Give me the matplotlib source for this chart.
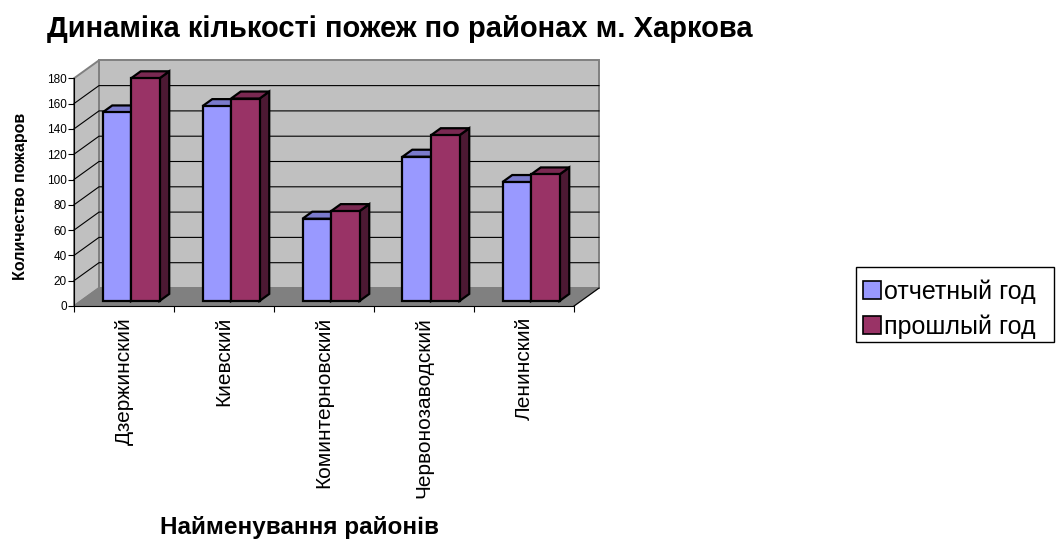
import matplotlib
matplotlib.use("Agg")
import matplotlib.pyplot as plt
from matplotlib.patches import Polygon, Patch, Rectangle

plt.rcParams["font.family"] = ["Liberation Sans", "DejaVu Sans"]

# fire counts by district of Kharkiv
districts = ["Дзержинский", "Киевский", "Коминтерновский", "Червонозаводский", "Ленинский"]
current_year = [149, 154, 65, 114, 94]
previous_year = [176, 160, 71, 131, 100]
series_names = ["отчетный год", "прошлый год"]
y_ticks = list(range(0, 181, 20))

title = "Динаміка кількості пожеж по районах м. Харкова"
x_title = "Найменування районів"
y_title = "Количество пожаров"

# face colours: front, top, side
blue = ("#9999FF", "#7A7ACC", "#4D4D80")
wine = ("#993366", "#7A2952", "#4C1933")

W, H = 1059, 539
fig = plt.figure(figsize=(W / 100, H / 100), dpi=100)

# axes in pixel terms: 100 px per district, 1.265 px per unit of value
px_cat, px_val = 100.0, 25.3 / 20
left_px, floor_px, top_px, right_px = 74, 306, 56, 614
ax = fig.add_axes([left_px / W, (H - floor_px) / H,
                   (right_px - left_px) / W, (floor_px - top_px) / H])
ax.set_xlim(0, (right_px - left_px) / px_cat)
ax.set_ylim(0, (floor_px - top_px) / px_val)

# oblique depth offset of the walls
DX = 25 / px_cat
DY = 18 / px_val
n = len(districts)
vmax = y_ticks[-1]


def proj(x, y, d):
    return (x + d * DX, y + d * DY)


def poly(pts, fc, ec, lw, z):
    ax.add_patch(Polygon(pts, closed=True, facecolor=fc, edgecolor=ec,
                         linewidth=lw, zorder=z, clip_on=False, joinstyle="miter"))


# walls and floor
poly([proj(0, 0, 1), proj(n, 0, 1), proj(n, vmax, 1), proj(0, vmax, 1)],
     "#C0C0C0", "#808080", 1.4, 1)
poly([proj(0, 0, 0), proj(0, 0, 1), proj(0, vmax, 1), proj(0, vmax, 0)],
     "#C0C0C0", "#808080", 1.4, 1)
poly([proj(0, 0, 0), proj(n, 0, 0), proj(n, 0, 1), proj(0, 0, 1)],
     "#808080", "#808080", 1.0, 1)
ax.plot(*zip(proj(n, 0, 0), proj(n, 0, 1)), color="black", lw=0.8, zorder=2, clip_on=False)

# grid lines on the side and back walls
for v in y_ticks[1:-1]:
    pts = [proj(0, v, 0), proj(0, v, 1), proj(n, v, 1)]
    ax.plot(*zip(*pts), color="black", lw=0.8, zorder=2, clip_on=False)

# bars as boxes
bar_w = 0.285
d0, d1 = 0.28, 0.67


def box(x0, h, colors):
    x1 = x0 + bar_w
    front, top, side = colors
    poly([proj(x1, 0, d0), proj(x1, 0, d1), proj(x1, h, d1), proj(x1, h, d0)],
         side, "black", 1.6, 3)
    poly([proj(x0, h, d0), proj(x1, h, d0), proj(x1, h, d1), proj(x0, h, d1)],
         top, "black", 1.6, 3)
    poly([proj(x0, 0, d0), proj(x1, 0, d0), proj(x1, h, d0), proj(x0, h, d0)],
         front, "black", 1.6, 3)


for i in range(n):
    box(i + 0.5 - bar_w, current_year[i], blue)
    box(i + 0.5, previous_year[i], wine)

# axes, ticks and labels
for s in ["top", "right"]:
    ax.spines[s].set_visible(False)
ax.spines["left"].set_bounds(0, vmax)
ax.spines["bottom"].set_bounds(0, n)
for s in ["left", "bottom"]:
    ax.spines[s].set_linewidth(0.8)
    ax.spines[s].set_zorder(4)
ax.patch.set_alpha(0)

ax.set_yticks(y_ticks)
ax.set_yticklabels([str(v) for v in y_ticks], fontsize=8.5)
ax.tick_params(axis="y", length=4, width=0.8, pad=1)

ax.set_xticks([i + 0.5 for i in range(n)])
ax.set_xticklabels(districts, rotation=90, fontsize=15, va="top")
ax.set_xticks(range(n + 1), minor=True)
ax.tick_params(axis="x", which="major", length=0, pad=8)
ax.tick_params(axis="x", which="minor", length=4.5, width=0.8)

fig.text(400 / W, 1 - 29 / H, title, fontsize=21, fontweight="bold",
         ha="center", va="center")
fig.text(160 / W, 1 - 534 / H, x_title, fontsize=17.5, fontweight="bold",
         ha="left", va="baseline")
fig.text(21 / W, 1 - 196 / H, y_title, fontsize=11.5, fontweight="bold",
         rotation=90, ha="center", va="center")

# legend with a hand-drawn frame
handles = [Patch(facecolor=blue[0], edgecolor="black", linewidth=1.2),
           Patch(facecolor=wine[0], edgecolor="black", linewidth=1.2)]
fig.legend(handles, series_names, loc="center left",
           bbox_to_anchor=(863 / W, 1 - 309 / H), fontsize=18,
           frameon=False, handlelength=0.72, handleheight=0.72, handletextpad=0.12,
           labelspacing=0.42, borderpad=0.0, borderaxespad=0)
fig.add_artist(Rectangle((856 / W, 1 - 342 / H), 198 / W, 75 / H,
                         transform=fig.transFigure, facecolor="none",
                         edgecolor="black", linewidth=1.0))

fig.savefig("out.png", dpi=100)
